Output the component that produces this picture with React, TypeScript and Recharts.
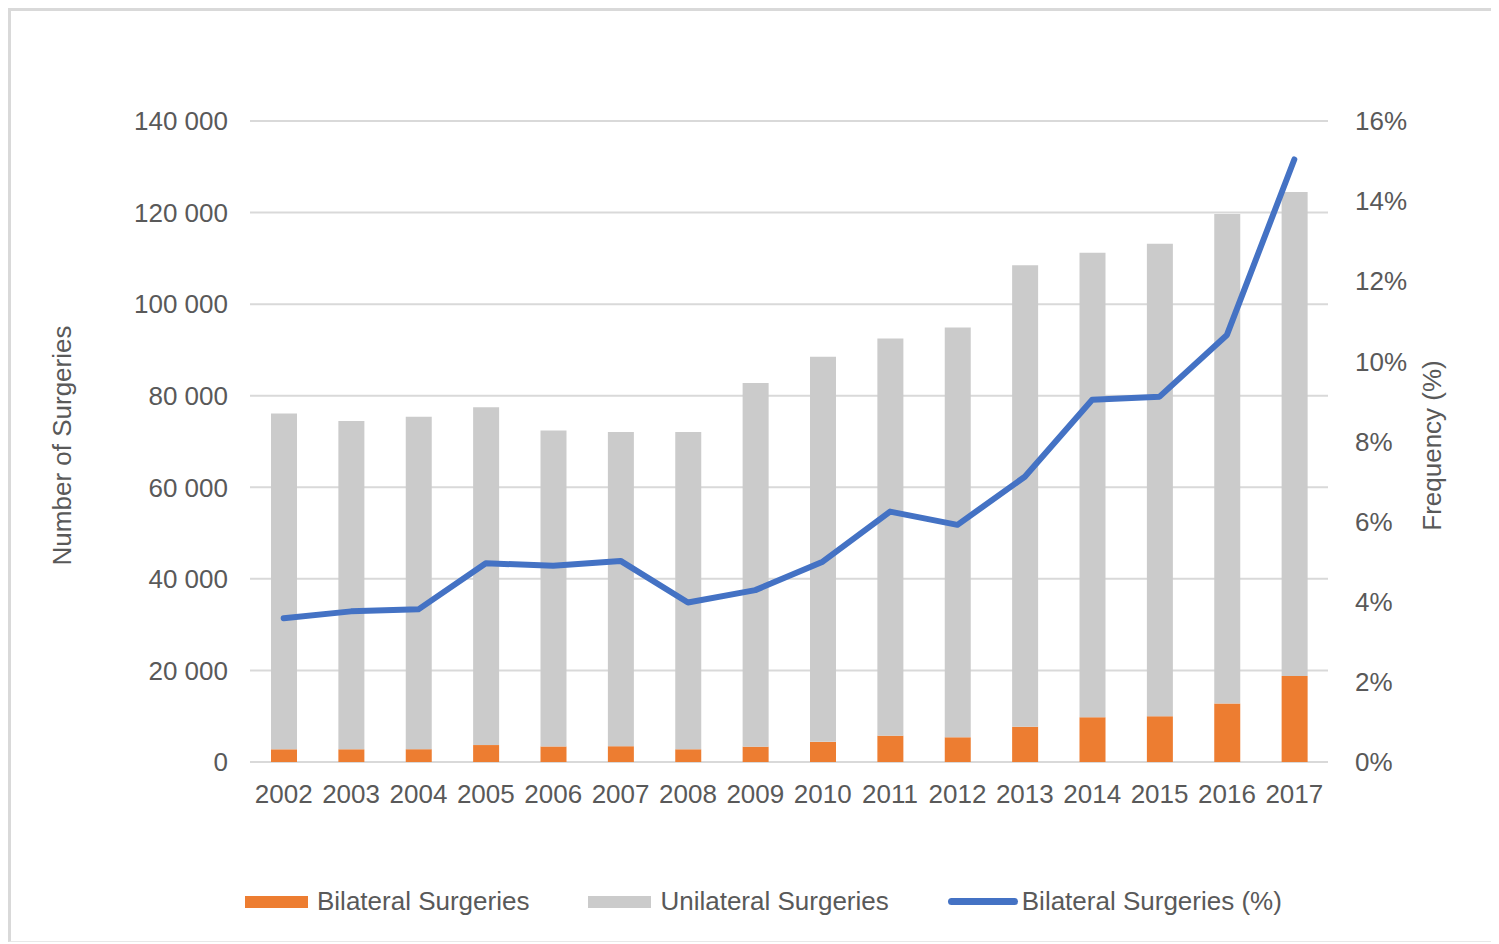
import React from "react";
import {
  ComposedChart,
  Bar,
  Line,
  XAxis,
  YAxis,
  CartesianGrid,
  Legend,
} from "recharts";

const years = [
  "2002", "2003", "2004", "2005", "2006", "2007", "2008", "2009",
  "2010", "2011", "2012", "2013", "2014", "2015", "2016", "2017",
];

// (number of surgeries)
const bilateral = [
  2770, 2780, 2800, 3700, 3400, 3450, 2780, 3350,
  4400, 5750, 5400, 7700, 9750, 10000, 12800, 18800,
];
const unilateral = [
  73330, 71720, 72600, 73800, 69000, 68650, 69320, 79450,
  84100, 86750, 89500, 100800, 101450, 103200, 106900, 105700,
];
// bilateral share, in %
const bilateralPct = [
  3.59, 3.76, 3.81, 4.96, 4.9, 5.02, 3.98, 4.29,
  5.0, 6.25, 5.92, 7.12, 9.04, 9.12, 10.66, 15.04,
];

const leftTicks = [0, 20000, 40000, 60000, 80000, 100000, 120000, 140000];
const rightTicks = [0, 2, 4, 6, 8, 10, 12, 14, 16];

const data = years.map((year, i) => ({
  year,
  bilateral: bilateral[i],
  unilateral: unilateral[i],
  pct: bilateralPct[i],
}));

const FONT = "'Liberation Sans', Arial, sans-serif";
const TEXT = "#595959";
const ORANGE = "#ED7D31";
const GREY = "#CBCBCB";
const BLUE = "#4472C4";

const fmtThousands = (v: number) =>
  String(v).replace(/\B(?=(\d{3})+(?!\d))/g, " ");

type TitleProps = {
  viewBox?: any;
  value: string;
  dx: number;
};

const AxisTitle = ({ viewBox, value, dx }: TitleProps) => {
  if (!viewBox) return null;
  const cx = viewBox.x + dx;
  const cy = viewBox.y + viewBox.height / 2 + 4;
  return (
    <text
      x={cx}
      y={cy}
      transform={`rotate(-90, ${cx}, ${cy})`}
      textAnchor="middle"
      dominantBaseline="central"
      fill={TEXT}
      fontSize={26}
      fontFamily={FONT}
    >
      {value}
    </text>
  );
};

const legendItems = [
  { name: "Bilateral Surgeries", color: ORANGE, kind: "bar" },
  { name: "Unilateral Surgeries", color: GREY, kind: "bar" },
  { name: "Bilateral Surgeries (%)", color: BLUE, kind: "line" },
];

const CustomLegend = () => (
  <div
    style={{
      display: "flex",
      alignItems: "center",
      fontFamily: FONT,
      fontSize: 26,
      color: TEXT,
      whiteSpace: "nowrap",
    }}
  >
    {legendItems.map((item, i) => (
      <div
        key={item.name}
        style={{
          display: "flex",
          alignItems: "center",
          marginRight: i < legendItems.length - 1 ? 59 : 0,
        }}
      >
        {item.kind === "bar" ? (
          <span
            style={{
              width: 63,
              height: 12,
              background: item.color,
              marginRight: 9,
              display: "inline-block",
            }}
          />
        ) : (
          <span
            style={{
              width: 70,
              height: 7,
              borderRadius: 4,
              background: item.color,
              marginRight: 4,
              display: "inline-block",
            }}
          />
        )}
        <span>{item.name}</span>
      </div>
    ))}
  </div>
);

export default function App() {
  return (
    <div
      style={{
        width: 1488,
        height: 930,
        borderTop: "3px solid #d9d9d9",
        borderLeft: "3px solid #d9d9d9",
        borderBottom: "1px solid #e8e8e8",
        background: "#fff",
        position: "relative",
      }}
    >
      <ComposedChart
        width={1488}
        height={930}
        data={data}
        margin={{ top: 110, right: 20, bottom: 119, left: 20 }}
      >
        <CartesianGrid
          yAxisId="left"
          vertical={false}
          stroke="#d9d9d9"
          strokeWidth={2}
        />
        <XAxis
          dataKey="year"
          height={60}
          interval={0}
          tickLine={false}
          axisLine={false}
          tickMargin={17}
          tick={{ fill: TEXT, fontSize: 26, fontFamily: FONT }}
        />
        <YAxis
          yAxisId="left"
          orientation="left"
          width={219}
          domain={[0, 140000]}
          ticks={leftTicks}
          interval={0}
          tickLine={false}
          axisLine={false}
          tickMargin={16}
          tickFormatter={fmtThousands}
          tick={{ fill: TEXT, fontSize: 26, fontFamily: FONT }}
          label={<AxisTitle value="Number of Surgeries" dx={31} />}
        />
        <YAxis
          yAxisId="right"
          orientation="right"
          width={151}
          domain={[0, 16]}
          ticks={rightTicks}
          interval={0}
          tickLine={false}
          axisLine={false}
          tickMargin={21}
          tickFormatter={(v) => `${v}%`}
          tick={{ fill: TEXT, fontSize: 26, fontFamily: FONT }}
          label={<AxisTitle value="Frequency (%)" dx={104} />}
        />
        <Bar
          yAxisId="left"
          dataKey="bilateral"
          name="Bilateral Surgeries"
          stackId="a"
          fill={ORANGE}
          barSize={26}
          isAnimationActive={false}
        />
        <Bar
          yAxisId="left"
          dataKey="unilateral"
          name="Unilateral Surgeries"
          stackId="a"
          fill={GREY}
          barSize={26}
          isAnimationActive={false}
        />
        <Line
          yAxisId="right"
          dataKey="pct"
          name="Bilateral Surgeries (%)"
          stroke={BLUE}
          strokeWidth={6}
          strokeLinejoin="round"
          strokeLinecap="round"
          dot={false}
          activeDot={false}
          isAnimationActive={false}
        />
        <Legend
          layout="horizontal"
          verticalAlign="middle"
          align="center"
          content={<CustomLegend />}
          wrapperStyle={{ top: 875, left: 234, width: "auto", height: 30 }}
        />
      </ComposedChart>
    </div>
  );
}
